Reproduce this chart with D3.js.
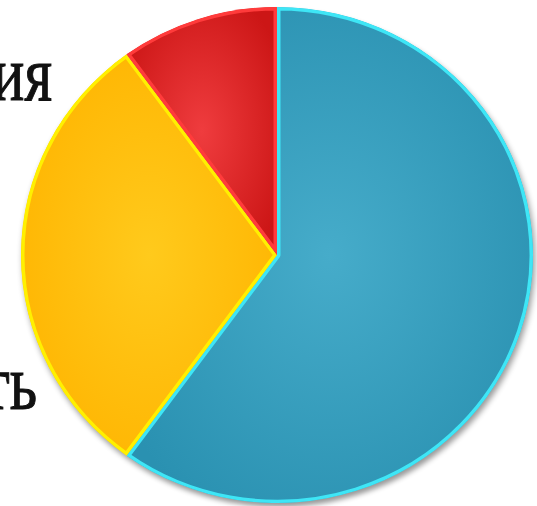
<!DOCTYPE html>
<html>
<head>
<meta charset="utf-8">
<script src="https://cdn.jsdelivr.net/npm/d3@7"></script>
<style>
  html, body { margin: 0; padding: 0; background: #fff; overflow: hidden; }
  svg { display: block; }
</style>
</head>
<body>
<svg id="chart" width="537" height="506"></svg>
<script>
(function () {
  "use strict";

  // slices, clockwise from 12 o'clock
  var categories = ["Прочее", "Безопасность", "Технология"];
  var values = [60, 30, 10];
  var fillInner = ["#46acca", "#ffca1c", "#ef3c3e"];
  var fillOuter = ["#2a91b1", "#ffb400", "#cc1616"];
  var strokeColors = ["#3ee6f6", "#fff000", "#ff3b3b"];
  // which slices get a text label (the blue one has none in view)
  var showLabel = [false, true, true];

  var cx = 277, cy = 255;
  var rx = 256, ry = 248;

  var svg = d3.select("#chart");
  var defs = svg.append("defs");

  var shadow = defs.append("filter")
    .attr("id", "pieShadow")
    .attr("x", "-10%").attr("y", "-10%")
    .attr("width", "120%").attr("height", "120%");
  shadow.append("feGaussianBlur")
    .attr("in", "SourceAlpha")
    .attr("stdDeviation", 3);
  shadow.append("feOffset").attr("dx", 2).attr("dy", 4).attr("result", "off");
  shadow.append("feComponentTransfer")
    .append("feFuncA").attr("type", "linear").attr("slope", 0.4);

  values.forEach(function (v, i) {
    var g = defs.append("radialGradient")
      .attr("id", "grad" + i)
      .attr("cx", "50%").attr("cy", "50%").attr("r", "60%");
    g.append("stop").attr("offset", "0%").attr("stop-color", fillInner[i]);
    g.append("stop").attr("offset", "100%").attr("stop-color", fillOuter[i]);
  });

  var pie = d3.pie().sort(null).value(function (d) { return d; });
  var arcs = pie(values);
  var arc = d3.arc().innerRadius(0).outerRadius(rx);

  var pieG = svg.append("g")
    .attr("transform", "translate(" + cx + "," + cy + ") scale(1," + (ry / rx) + ")");

  // soft shadow under the whole disc
  pieG.append("path")
    .attr("d", arc({ startAngle: 0, endAngle: 2 * Math.PI }))
    .attr("fill", "#000")
    .attr("filter", "url(#pieShadow)");

  arcs.forEach(function (d, i) {
    defs.append("clipPath")
      .attr("id", "clip" + i)
      .append("path")
      .attr("d", arc(d));
  });

  pieG.selectAll("path.slice")
    .data(arcs)
    .enter()
    .append("path")
    .attr("class", "slice")
    .attr("d", arc)
    .attr("fill", function (d, i) { return "url(#grad" + i + ")"; })
    .attr("stroke", function (d, i) { return strokeColors[i]; })
    .attr("stroke-width", 7)
    .attr("stroke-linejoin", "round")
    .attr("clip-path", function (d, i) { return "url(#clip" + i + ")"; });

  // labels, cut off by the left edge as in the original slide
  var labelPos = { 1: [37, 409], 2: [52, 100] };
  svg.selectAll("text.label")
    .data(categories.map(function (c, i) { return { name: c, i: i }; })
      .filter(function (d) { return showLabel[d.i]; }))
    .enter()
    .append("text")
    .attr("class", "label")
    .attr("transform", function (d) {
      return "translate(" + labelPos[d.i][0] + "," + labelPos[d.i][1] + ") scale(1,1.3)";
    })
    .attr("text-anchor", "end")
    .attr("font-family", "'Liberation Serif', 'DejaVu Serif', serif")
    .attr("font-size", 60)
    .attr("fill", "#111")
    .attr("stroke", "#111")
    .attr("stroke-width", 0.8)
    .text(function (d) { return d.name; });
}());
</script>
</body>
</html>
